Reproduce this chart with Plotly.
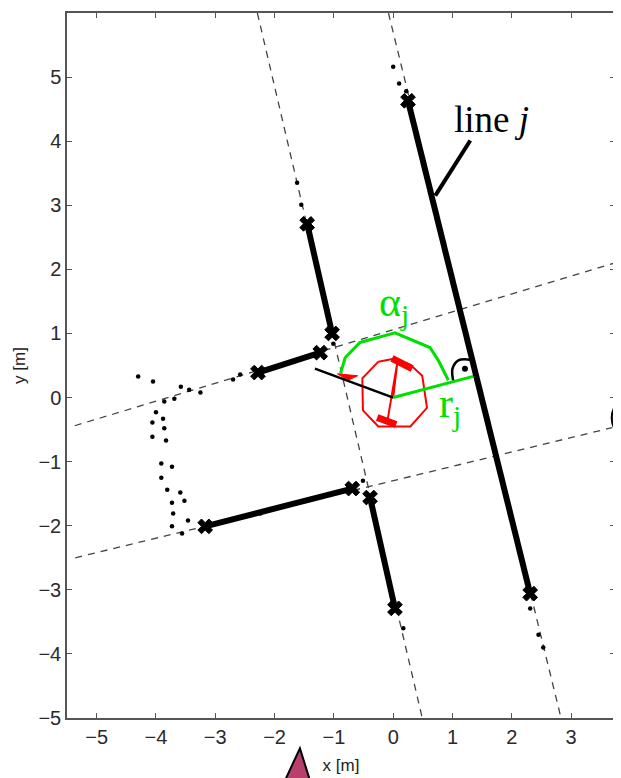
import plotly.graph_objects as go

# ---- data (metres) ----
# extracted wall segments (endpoints)
wall_x = [[0.25, 2.31], [-1.45, -1.03], [-2.28, -1.23], [-3.17, -0.69], [-0.39, 0.03]]
wall_y = [[4.63, -3.06], [2.71, 1.00], [0.39, 0.70], [-2.01, -1.42], [-1.56, -3.29]]

# infinite fitted lines (dashed), endpoints where they leave the view
fit_x = [[-2.29, 0.49], [-0.08, 2.83], [-5.37, 3.74], [-5.36, 3.69]]
fit_y = [[6.0, -5.0], [6.0, -5.0], [-0.44, 2.10], [-2.50, -0.47]]

# raw scan points (outliers / unassigned)
pts_x = [-4.30, -4.05, -3.58, -3.44, -3.25, -3.86, -3.69, -4.00, -3.88, -4.06, -3.86,
         -4.06, -3.83, -3.91, -3.73, -3.91, -3.81, -3.59, -3.73, -3.52, -3.71, -3.73,
         -3.46, -3.56, -2.70, -2.58, -1.62, -1.55, 0.00, 0.10, 0.22, 2.31, 2.45, 2.53,
         0.17, -1.01, -0.51, -2.24]
pts_y = [0.33, 0.25, 0.17, 0.12, 0.08, -0.06, -0.02, -0.23, -0.33, -0.39, -0.48,
         -0.61, -0.67, -1.03, -1.08, -1.25, -1.44, -1.48, -1.64, -1.61, -1.81, -2.01,
         -1.92, -2.12, 0.28, 0.36, 3.35, 3.01, 5.16, 4.90, 4.78, -3.29, -3.70, -3.90,
         -3.60, 0.84, -1.30, -1.81]

# robot outline (red)
robot_x = [-0.25, 0.03, 0.29, 0.49, 0.57, 0.29, -0.25, -0.51, -0.52, -0.25]
robot_y = [0.56, 0.61, 0.51, 0.34, -0.16, -0.45, -0.45, -0.20, 0.30, 0.56]
robot_inner_x = [0.00, 0.07, -0.10]
robot_inner_y = [0.00, 0.55, -0.38]
wheel_top_x = [-0.02, 0.32]
wheel_top_y = [0.61, 0.45]
wheel_bot_x = [-0.27, 0.05]
wheel_bot_y = [-0.31, -0.42]
flag_x = [-0.94, -0.60, -0.76, -0.94]
flag_y = [0.37, 0.34, 0.27, 0.37]
heading_x = [0.00, -1.32]
heading_y = [0.00, 0.45]

# line parameters (green)
r_x = [0.00, 1.35]
r_y = [0.00, 0.33]
alpha_x = [-0.89, -0.81, -0.56, 0.03, 0.62, 0.76, 0.93]
alpha_y = [0.37, 0.62, 0.86, 1.01, 0.78, 0.58, 0.27]
right_angle_x = [1.01, 1.00, 1.10, 1.30]
right_angle_y = [0.27, 0.45, 0.58, 0.59]
right_dot_x = [1.21]
right_dot_y = [0.45]

# "line j" pointer
ptr_x = [1.30, 0.71]
ptr_y = [4.01, 3.15]

x_ticks = [-5, -4, -3, -2, -1, 0, 1, 2, 3]
y_ticks = [-5, -4, -3, -2, -1, 0, 1, 2, 3, 4, 5]

# clipped neighbour graphics outside the axes (paper coordinates)
tri_x = [0.425, 0.385, 0.452]
tri_y = [-0.043, -0.11, -0.11]
circ_box = [0.994, 0.394, 1.075, 0.457]
green_box = [0.997, -0.028, 1.03, -0.07]

fig = go.Figure()

for xs, ys in zip(fit_x, fit_y):
    fig.add_trace(go.Scatter(x=xs, y=ys, mode="lines",
                             line=dict(color="#444444", width=1.3, dash="7px,6px"),
                             hoverinfo="skip"))

fig.add_trace(go.Scatter(x=pts_x, y=pts_y, mode="markers",
                         marker=dict(color="black", size=4.5), hoverinfo="skip"))

for xs, ys in zip(wall_x, wall_y):
    fig.add_trace(go.Scatter(x=xs, y=ys, mode="lines+markers",
                             line=dict(color="black", width=6),
                             marker=dict(symbol="x", size=13, color="black",
                                         line=dict(color="black", width=1)),
                             hoverinfo="skip"))

# robot
fig.add_trace(go.Scatter(x=robot_x, y=robot_y, mode="lines",
                         line=dict(color="#ff0000", width=2), hoverinfo="skip"))
fig.add_trace(go.Scatter(x=robot_inner_x, y=robot_inner_y, mode="lines",
                         line=dict(color="#ff0000", width=2), hoverinfo="skip"))
fig.add_trace(go.Scatter(x=wheel_top_x, y=wheel_top_y, mode="lines",
                         line=dict(color="#ff0000", width=7), hoverinfo="skip"))
fig.add_trace(go.Scatter(x=wheel_bot_x, y=wheel_bot_y, mode="lines",
                         line=dict(color="#ff0000", width=7), hoverinfo="skip"))
fig.add_trace(go.Scatter(x=flag_x, y=flag_y, mode="lines", fill="toself",
                         fillcolor="#ff0000", line=dict(color="#ff0000", width=1),
                         hoverinfo="skip"))
fig.add_trace(go.Scatter(x=heading_x, y=heading_y, mode="lines",
                         line=dict(color="black", width=2.5), hoverinfo="skip"))

# green parameters
fig.add_trace(go.Scatter(x=alpha_x, y=alpha_y, mode="lines",
                         line=dict(color="#00e000", width=3), hoverinfo="skip"))
fig.add_trace(go.Scatter(x=r_x, y=r_y, mode="lines",
                         line=dict(color="#00e000", width=3), hoverinfo="skip"))
fig.add_trace(go.Scatter(x=right_angle_x, y=right_angle_y, mode="lines",
                         line=dict(color="black", width=2.5, shape="spline"),
                         hoverinfo="skip"))
fig.add_trace(go.Scatter(x=right_dot_x, y=right_dot_y, mode="markers",
                         marker=dict(color="black", size=6), hoverinfo="skip"))

fig.add_trace(go.Scatter(x=ptr_x, y=ptr_y, mode="lines",
                         line=dict(color="black", width=4), hoverinfo="skip"))

fig.add_annotation(x=1.65, y=4.34, xref="x", yref="y", text="line <i>j</i>",
                   showarrow=False, xanchor="center", yanchor="middle",
                   font=dict(family="Liberation Serif", size=37, color="black"))
fig.add_annotation(x=-0.27, y=1.45, xref="x", yref="y", text="α<sub>j</sub>",
                   showarrow=False, xanchor="left", yanchor="middle",
                   font=dict(family="Liberation Serif", size=42, color="#00e000"))
fig.add_annotation(x=0.74, y=-0.13, xref="x", yref="y", text="r<sub>j</sub>",
                   showarrow=False, xanchor="left", yanchor="middle",
                   font=dict(family="Liberation Serif", size=42, color="#00e000"))

# clipped neighbour graphics
fig.add_shape(type="path", xref="paper", yref="paper",
              path="M {} {} L {} {} L {} {} Z".format(tri_x[0], tri_y[0], tri_x[1], tri_y[1],
                                                     tri_x[2], tri_y[2]),
              fillcolor="#b83e6c", line=dict(color="black", width=2))
fig.add_shape(type="circle", xref="paper", yref="paper",
              x0=circ_box[0], y0=circ_box[1], x1=circ_box[2], y1=circ_box[3],
              fillcolor="#b83e6c", line=dict(color="black", width=2))
fig.add_shape(type="rect", xref="paper", yref="paper",
              x0=green_box[0], y0=green_box[1], x1=green_box[2], y1=green_box[3],
              fillcolor="#44dd44", line=dict(width=0))

axis_common = dict(showgrid=False, zeroline=False, showline=True, linecolor="#555555",
                   linewidth=1.5, mirror="ticks", ticks="inside", ticklen=5,
                   tickcolor="#555555", tickwidth=1, automargin=False,
                   tickfont=dict(family="Liberation Sans", size=20, color="#2a2a2a"))

# the page body adds an 8px offset, so the figure is 8px smaller than the window
fig.update_layout(
    width=613, height=770,
    margin=dict(l=59, r=6, t=5, b=60),
    paper_bgcolor="white", plot_bgcolor="white",
    showlegend=False,
    xaxis=dict(range=[-5.5, 3.74], tickvals=x_ticks,
               title=dict(text="x [m]", standoff=12,
                          font=dict(family="Liberation Sans", size=17, color="#222222")),
               **axis_common),
    yaxis=dict(range=[-5, 6], tickvals=y_ticks,
               title=dict(text="y [m]", standoff=8,
                          font=dict(family="Liberation Sans", size=17, color="#222222")),
               **axis_common),
)

fig.write_html("out.html")
